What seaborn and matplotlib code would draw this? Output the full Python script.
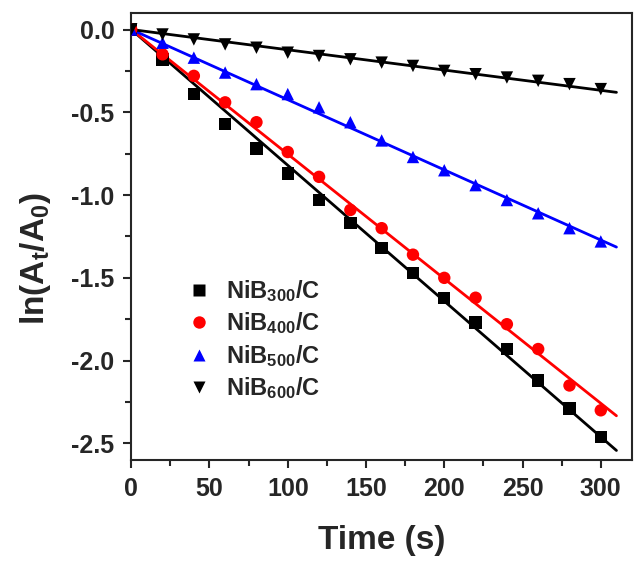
import numpy as np
import pandas as pd
import matplotlib
matplotlib.use("Agg")
import matplotlib.pyplot as plt
from matplotlib.ticker import MultipleLocator
import seaborn as sns

# time points (s)
time = [0, 20, 40, 60, 80, 100, 120, 140, 160, 180, 200, 220, 240, 260, 280, 300]

# ln(At/A0)
nib300 = [0, -0.18, -0.39, -0.57, -0.72, -0.87, -1.03, -1.17, -1.32, -1.47, -1.62, -1.77, -1.93, -2.12, -2.29, -2.46]
nib400 = [0, -0.15, -0.28, -0.44, -0.56, -0.74, -0.89, -1.09, -1.20, -1.36, -1.50, -1.62, -1.78, -1.93, -2.15, -2.30]
nib500 = [0, -0.08, -0.17, -0.26, -0.33, -0.39, -0.47, -0.56, -0.67, -0.77, -0.85, -0.94, -1.03, -1.11, -1.20, -1.28]
nib600 = [0, -0.03, -0.06, -0.09, -0.11, -0.14, -0.16, -0.18, -0.20, -0.22, -0.25, -0.27, -0.29, -0.31, -0.33, -0.36]

labels = [r'$\mathbf{NiB_{300}/C}$', r'$\mathbf{NiB_{400}/C}$',
          r'$\mathbf{NiB_{500}/C}$', r'$\mathbf{NiB_{600}/C}$']
colors = ['black', 'red', 'blue', 'black']
markers = ['s', 'o', '^', 'v']
fit_end = 310  # fitted lines run a bit past the last point

sns.set_style("ticks")
plt.rcParams['font.family'] = ['Liberation Sans', 'DejaVu Sans']
plt.rcParams['font.weight'] = 'bold'
plt.rcParams['axes.unicode_minus'] = False
plt.rcParams['mathtext.fontset'] = 'custom'
plt.rcParams['mathtext.rm'] = 'Liberation Sans:bold'
plt.rcParams['mathtext.bf'] = 'Liberation Sans:bold'
plt.rcParams['mathtext.it'] = 'Liberation Sans:bold'

# long form table for seaborn
pts = pd.DataFrame({
    'time': time * 4,
    'val': nib300 + nib400 + nib500 + nib600,
    'sample': np.repeat(labels, len(time)),
})

# linear fit through origin for each sample
fit_rows = []
for lab, ys in zip(labels, [nib300, nib400, nib500, nib600]):
    x = np.array(time, dtype=float)
    y = np.array(ys)
    k = (x * y).sum() / (x * x).sum()
    fit_rows.append({'time': 0, 'val': 0.0, 'sample': lab})
    fit_rows.append({'time': fit_end, 'val': k * fit_end, 'sample': lab})
fits = pd.DataFrame(fit_rows)

fig = plt.figure(figsize=(6.34, 5.63), dpi=100)
ax = fig.add_axes([0.207, 0.183, 0.79, 0.794])

pal = dict(zip(labels, colors))
mk = dict(zip(labels, markers))

sns.lineplot(data=fits, x='time', y='val', hue='sample', palette=pal,
             linewidth=2.0, legend=False, ax=ax)
sns.scatterplot(data=pts, x='time', y='val', hue='sample', style='sample',
                palette=pal, markers=mk, s=80, edgecolor='none', ax=ax, zorder=3)

ax.set_xlim(0, 320)
ax.set_ylim(-2.6, 0.1)
ax.xaxis.set_major_locator(MultipleLocator(50))
ax.xaxis.set_minor_locator(MultipleLocator(25))
ax.yaxis.set_major_locator(MultipleLocator(0.5))
ax.yaxis.set_minor_locator(MultipleLocator(0.25))
ax.tick_params(which='major', direction='out', length=6, width=1.5, labelsize=18)
ax.tick_params(which='minor', direction='out', length=4, width=1.5)
ax.tick_params(axis='x', pad=6)
ax.tick_params(axis='y', pad=6)
ax.tick_params(top=False, right=False, which='both')
for lab in ax.get_xticklabels() + ax.get_yticklabels():
    lab.set_fontweight('bold')
for sp in ax.spines.values():
    sp.set_linewidth(1.5)
    sp.set_visible(True)

ax.set_xlabel('Time (s)', fontsize=24, fontweight='bold')
ax.set_ylabel(r'$\mathbf{ln(A_t/A_0)}$', fontsize=24)
ax.xaxis.set_label_coords(0.5, -0.145)
ax.yaxis.set_label_coords(-0.157, 0.45)

leg = ax.legend(loc='upper left', bbox_to_anchor=(0.045, 0.455), frameon=False,
                fontsize=17, handletextpad=0.15, labelspacing=0.28, markerscale=1.0)

fig.savefig('out.png', dpi=100)
